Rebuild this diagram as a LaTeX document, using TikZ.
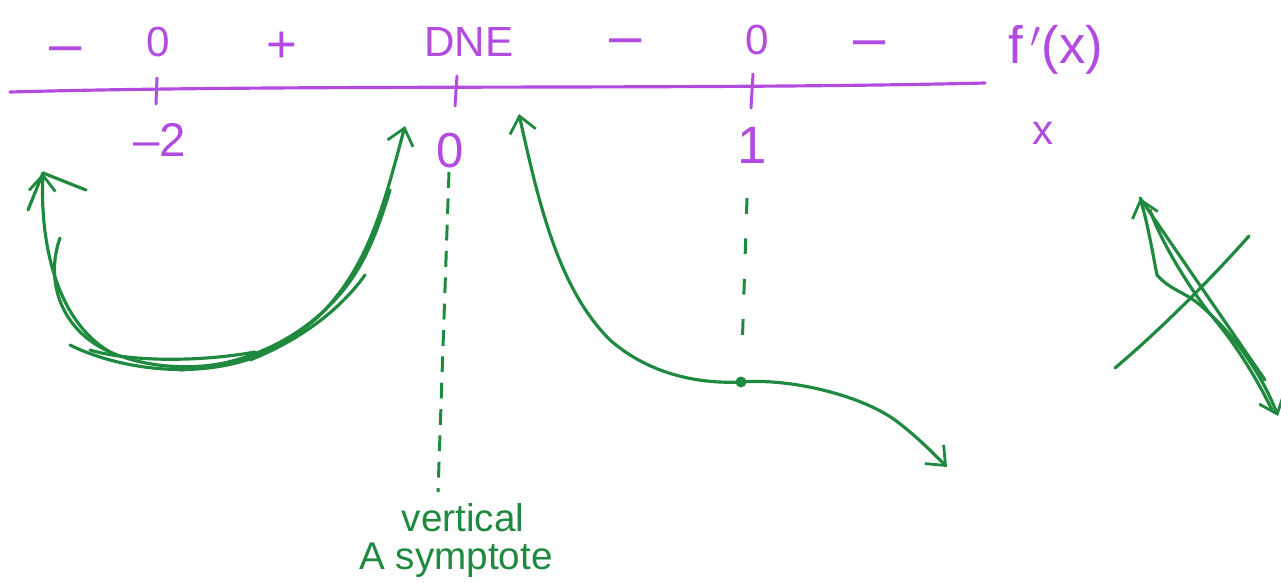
\documentclass[tikz,border=0pt]{standalone}
\usepackage{fontspec}
\setmainfont{Liberation Sans}
\usetikzlibrary{arrows.meta}
\definecolor{pur}{HTML}{B24BE0}
\definecolor{grn}{HTML}{1F8A3F}
\tikzset{
  axisline/.style={pur, line width=1.8pt, line cap=round},
  tick/.style={pur, line width=1.7pt, line cap=round},
  plab/.style={text=pur, font=\fontsize{24}{26}\selectfont, inner sep=0pt},
  dashlab/.style={text=pur, font=\fontsize{33}{34}\selectfont, inner sep=0pt},
  curve/.style={grn, line width=1.8pt, line cap=round, line join=round},
  arr/.style={-{Straight Barb[length=9pt,width=15pt,line width=1.6pt]}},
  asym/.style={grn, line width=1.7pt, dash pattern=on 9pt off 6pt},
  glab/.style={text=grn, font=\fontsize{22}{24}\selectfont, inner sep=0pt},
}
\begin{document}
\begin{tikzpicture}[x=0.02cm,y=-0.02cm]
\useasboundingbox (0,0) rectangle (1281,582);
% axis
\coordinate (axL) at (10,92);
\coordinate (axR) at (985,83);
\draw[axisline] (axL) .. controls (300,84) and (700,90) .. (axR);
% ticks
\coordinate (t1a) at (157,78); \coordinate (t1b) at (156,104);
\coordinate (t2a) at (457,76); \coordinate (t2b) at (455,106);
\coordinate (t3a) at (753,74); \coordinate (t3b) at (751,108);
\draw[tick] (t1a) -- (t1b);
\draw[tick] (t2a) -- (t2b);
\draw[tick] (t3a) -- (t3b);
% top sign labels
\node[dashlab] (s1) at (66,55) {\textendash};
\node[plab] (z1) at (158,42) {0};
\node[plab, font=\fontsize{30}{32}\selectfont] (s2) at (282,47) {+};
\node[plab] (dne) at (469,42) {DNE};
\node[dashlab] (s3) at (626,47) {\textendash};
\node[plab] (z2) at (757,40) {0};
\node[dashlab] (s4) at (870,49) {\textendash};
\node[plab, font=\fontsize{30}{32}\selectfont] (fp) at (1056,50) {f$\,'$(x)};
% bottom labels
\node[plab, font=\fontsize{27}{29}\selectfont] (m2) at (160,140) {\textendash2};
\node[plab, font=\fontsize{28}{30}\selectfont] (zero) at (450,151) {0};
\node[plab, font=\fontsize{30}{32}\selectfont] (one) at (752,145) {1};
\node[plab] (xl) at (1043,133) {x};
% U curve (left)
\coordinate (u0) at (43,173);
\coordinate (u1) at (405,126);
\draw[curve, arr] (60,238) .. controls (45,280) and (60,330) .. (110,352)
   .. controls (170,378) and (260,372) .. (320,315)
   .. controls (370,265) and (385,200) .. (u1);
\draw[curve] (390,190) .. controls (375,240) and (360,275) .. (330,305)
   .. controls (290,345) and (240,365) .. (180,370);
\draw[curve, arr] (110,352) .. controls (55,320) and (40,240) .. (u0);
\draw[curve] (u0) -- (86,190);
\draw[curve] (u0) -- (28,210);
\draw[curve] (70,345) .. controls (120,370) and (200,380) .. (260,355);
\draw[curve] (90,350) .. controls (130,362) and (200,362) .. (255,352);
\draw[curve] (250,360) .. controls (300,340) and (340,310) .. (365,275);
% asymptote
\coordinate (va1) at (449,172);
\coordinate (va2) at (438,492);
\draw[asym] (va1) -- (va2);
\node[glab] (vert) at (463,518) {vertical};
\node[glab] (asy) at (456,560) {A symptote};
% right curve
\coordinate (r0) at (519,114);
\coordinate (rd) at (741,382);
\coordinate (r1) at (947,467);
\draw[curve, arr] (rd) .. controls (700,384) and (650,375) .. (610,340)
   .. controls (560,290) and (540,210) .. (r0);
\draw[curve, arr] (rd) .. controls (790,378) and (860,395) .. (895,420)
   .. controls (915,435) and (930,450) .. (r1);
\fill[grn] (rd) circle (5.5);
% dashed at x=1
\coordinate (d1a) at (747,198);
\coordinate (d1b) at (742,352);
\draw[asym, dash pattern=on 9pt off 14pt] (d1a) -- (d1b);
% right X sketch
\coordinate (xa) at (1115,368);
\coordinate (xb) at (1249,236);
\draw[curve] (xa) .. controls (1160,330) and (1210,280) .. (xb);
\coordinate (xc) at (1140,198);
\coordinate (xd) at (1278,416);
\draw[curve, arr] (1157,275) .. controls (1170,290) and (1185,292) .. (1200,305)
   .. controls (1230,330) and (1260,370) .. (xd);
\draw[curve, arr] (1157,275) .. controls (1152,250) and (1148,225) .. (xc);
\draw[curve] (xc) -- (1265,380);
\draw[curve] (1150,210) .. controls (1160,240) and (1190,290) .. (1215,320)
   .. controls (1240,350) and (1260,385) .. (1272,410);
\end{tikzpicture}
\end{document}
